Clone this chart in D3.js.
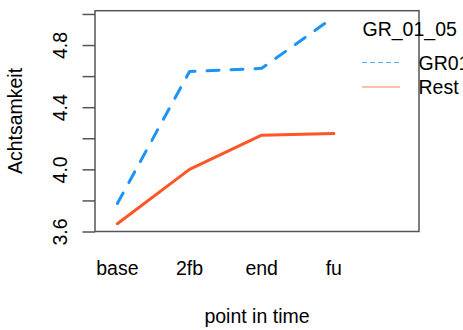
<!DOCTYPE html>
<html>
<head>
<meta charset="utf-8">
<script src="https://cdn.jsdelivr.net/npm/d3@7"></script>
<style>
  body { margin: 0; background: #fff; }
  text { font-family: "Liberation Sans", Arial, sans-serif; fill: #000; }
</style>
</head>
<body>
<svg id="chart" width="463" height="330"></svg>
<script>
// values
const timePoints = ['base', '2fb', 'end', 'fu'];
const gr01 = [3.78, 4.63, 4.65, 4.98];
const rest = [3.65, 4.00, 4.22, 4.23];
const yTicks = [3.6, 3.8, 4.0, 4.2, 4.4, 4.6, 4.8, 5.0];
const yLabels = [3.6, 4.0, 4.4, 4.8];
const seriesNames = ['GR01', 'Rest'];
const legendTitle = 'GR_01_05';

const fontSize = '19.5px';
const svg = d3.select('#chart');
const box = { left: 95, right: 419, top: 10.7, bottom: 231.5 };

const x = d3.scaleLinear().domain([0.69, 5.18]).range([box.left, box.right]);
const y = d3.scaleLinear().domain([3.6, 5.021]).range([box.bottom, box.top]);

const series = [
    { name: seriesNames[0], values: gr01, color: '#1c93f5', dash: '12,12' },
    { name: seriesNames[1], values: rest, color: '#ff5626', dash: null }
];

// plot box
svg.append('rect')
    .attr('x', box.left).attr('y', box.top)
    .attr('width', box.right - box.left).attr('height', box.bottom - box.top)
    .attr('fill', 'none').attr('stroke', '#555').attr('stroke-width', 1.5);

// y axis
const yAxis = d3.axisLeft(y)
    .tickValues(yTicks)
    .tickSize(12.5)
    .tickFormat(d => yLabels.some(v => Math.abs(v - d) < 1e-9) ? d3.format('.1f')(d) : '');
const yg = svg.append('g').attr('transform', `translate(${box.left},0)`).call(yAxis);
yg.select('.domain').remove();
yg.selectAll('.tick line').attr('stroke', '#555').attr('stroke-width', 1.5);
yg.selectAll('.tick text')
    .attr('x', 0).attr('y', 0).attr('dy', null)
    .attr('transform', 'translate(-35,0) rotate(-90)')
    .attr('text-anchor', 'middle')
    .attr('dominant-baseline', 'central')
    .style('font-size', fontSize)
    .style('font-family', '"Liberation Sans", Arial, sans-serif');

// x labels
svg.append('g').selectAll('text')
    .data(timePoints)
    .join('text')
    .attr('x', (d, i) => x(i + 1))
    .attr('y', 268)
    .attr('text-anchor', 'middle')
    .attr('dominant-baseline', 'central')
    .style('font-size', fontSize)
    .text(d => d);

// axis titles
svg.append('text')
    .attr('x', 257).attr('y', 316)
    .attr('text-anchor', 'middle').attr('dominant-baseline', 'central')
    .style('font-size', fontSize)
    .text('point in time');
svg.append('text')
    .attr('transform', 'translate(14.5,121) rotate(-90)')
    .attr('text-anchor', 'middle').attr('dominant-baseline', 'central')
    .style('font-size', fontSize)
    .text('Achtsamkeit');

// lines
const line = d3.line().x((d, i) => x(i + 1)).y(d => y(d));
svg.append('g').selectAll('path')
    .data(series)
    .join('path')
    .attr('d', d => line(d.values))
    .attr('fill', 'none')
    .attr('stroke', d => d.color)
    .attr('stroke-width', 3)
    .attr('stroke-linecap', 'round')
    .attr('stroke-linejoin', 'round')
    .attr('stroke-dasharray', d => d.dash);

// legend
const lg = svg.append('g');
lg.append('text')
    .attr('x', 362.5).attr('y', 29)
    .attr('dominant-baseline', 'central')
    .style('font-size', fontSize)
    .text(legendTitle);
const items = lg.selectAll('g.item')
    .data(series)
    .join('g')
    .attr('class', 'item')
    .attr('transform', (d, i) => `translate(0,${62.5 + i * 24.5})`);
items.append('line')
    .attr('x1', 362).attr('x2', 400)
    .attr('stroke', d => d.color)
    .attr('stroke-opacity', 0.75)
    .attr('stroke-width', 1.2)
    .attr('stroke-dasharray', d => d.dash ? '5,3' : null);
items.append('text')
    .attr('x', 418.5)
    .attr('dominant-baseline', 'central')
    .style('font-size', fontSize)
    .text(d => d.name);
</script>
</body>
</html>
